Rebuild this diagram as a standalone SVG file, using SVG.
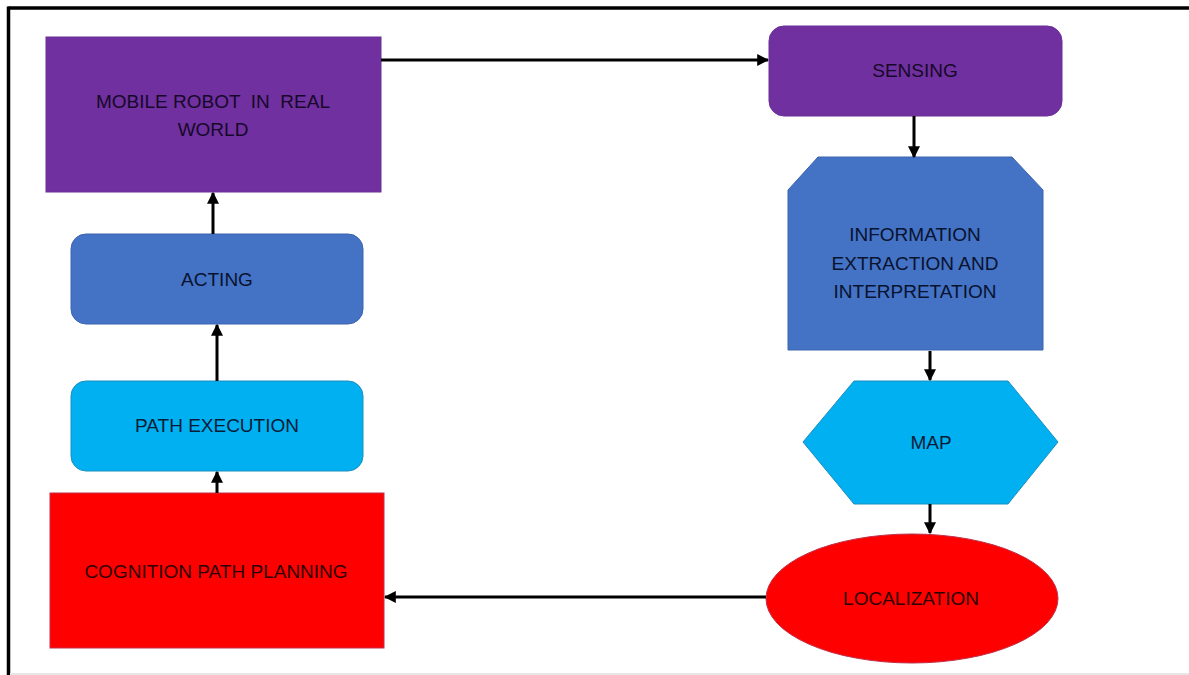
<svg xmlns="http://www.w3.org/2000/svg" width="1189" height="675" viewBox="0 0 1189 675">
<style>
  text { font-family: "Liberation Sans", Arial, sans-serif; font-size: 19px; text-anchor: middle; dominant-baseline: central; white-space: pre; }
  .purple { fill: #7030A0; stroke: #6a2e97; stroke-width: 1; }
  .blue { fill: #4472C4; stroke: #3b64ad; stroke-width: 1; }
  .cyan { fill: #00B0F0; stroke: #1a8fc0; stroke-width: 1; }
  .red { fill: #FF0000; stroke: #c0304a; stroke-width: 1; }
  .tp { fill: #160828; }
  .tb { fill: #081330; }
  .tc { fill: #081c38; }
  .tr { fill: #2e0000; }
  .conn { stroke: #000; stroke-width: 3; fill: none; marker-end: url(#ah); }
</style>
<defs>
  <marker id="ah" markerWidth="4" markerHeight="4" refX="3.6" refY="2" orient="auto" markerUnits="strokeWidth">
    <path d="M0,0 L4,2 L0,4 Z" fill="#000"/>
  </marker>
</defs>
<rect x="0" y="0" width="1189" height="675" fill="#fff"/>
<g id="frame">
  <line x1="8.5" y1="8" x2="1189" y2="8" stroke="#000" stroke-width="3.5"/>
  <line x1="8.5" y1="6.5" x2="8.5" y2="675" stroke="#000" stroke-width="3.5"/>
  <line x1="10" y1="674" x2="1189" y2="674" stroke="#e6e6e6" stroke-width="2"/>
</g>
<g id="mobile-robot">
  <rect class="purple" x="46" y="37" width="335" height="155"/>
  <text class="tp" x="213" y="101">MOBILE ROBOT  IN  REAL</text>
  <text class="tp" x="213" y="129">WORLD</text>
</g>
<g id="sensing">
  <rect class="purple" x="769" y="26" width="293" height="90" rx="15" ry="15"/>
  <text class="tp" x="915" y="70">SENSING</text>
</g>
<g id="information">
  <path class="blue" d="M818,157 L1012,157 L1043,190 L1043,350 L788,350 L788,190 Z"/>
  <text class="tb" x="915" y="234">INFORMATION</text>
  <text class="tb" x="915" y="263">EXTRACTION AND</text>
  <text class="tb" x="915" y="291">INTERPRETATION</text>
</g>
<g id="map">
  <path class="cyan" d="M854,381 L1008,381 L1058,442 L1008,504 L854,504 L803,442 Z"/>
  <text class="tc" x="931" y="442">MAP</text>
</g>
<g id="localization">
  <ellipse class="red" cx="912" cy="598.5" rx="146" ry="64.5"/>
  <text class="tr" x="911" y="598">LOCALIZATION</text>
</g>
<g id="cognition">
  <rect class="red" x="50" y="493" width="334" height="155"/>
  <text class="tr" x="216" y="571">COGNITION PATH PLANNING</text>
</g>
<g id="path-execution">
  <rect class="cyan" x="71" y="381" width="292" height="90" rx="15" ry="15"/>
  <text class="tc" x="217" y="425">PATH EXECUTION</text>
</g>
<g id="acting">
  <rect class="blue" x="71" y="234" width="292" height="90" rx="15" ry="15"/>
  <text class="tb" x="217" y="279">ACTING</text>
</g>
<g id="connectors">
  <line class="conn" x1="381" y1="60" x2="768" y2="60"/>
  <line class="conn" x1="914" y1="116" x2="914" y2="157"/>
  <line class="conn" x1="930" y1="351" x2="930" y2="380"/>
  <line class="conn" x1="930" y1="504" x2="930" y2="533"/>
  <line class="conn" x1="766" y1="597" x2="385" y2="597"/>
  <line class="conn" x1="217" y1="493" x2="217" y2="472"/>
  <line class="conn" x1="217" y1="381" x2="217" y2="325"/>
  <line class="conn" x1="213" y1="234" x2="213" y2="193"/>
</g>
</svg>
